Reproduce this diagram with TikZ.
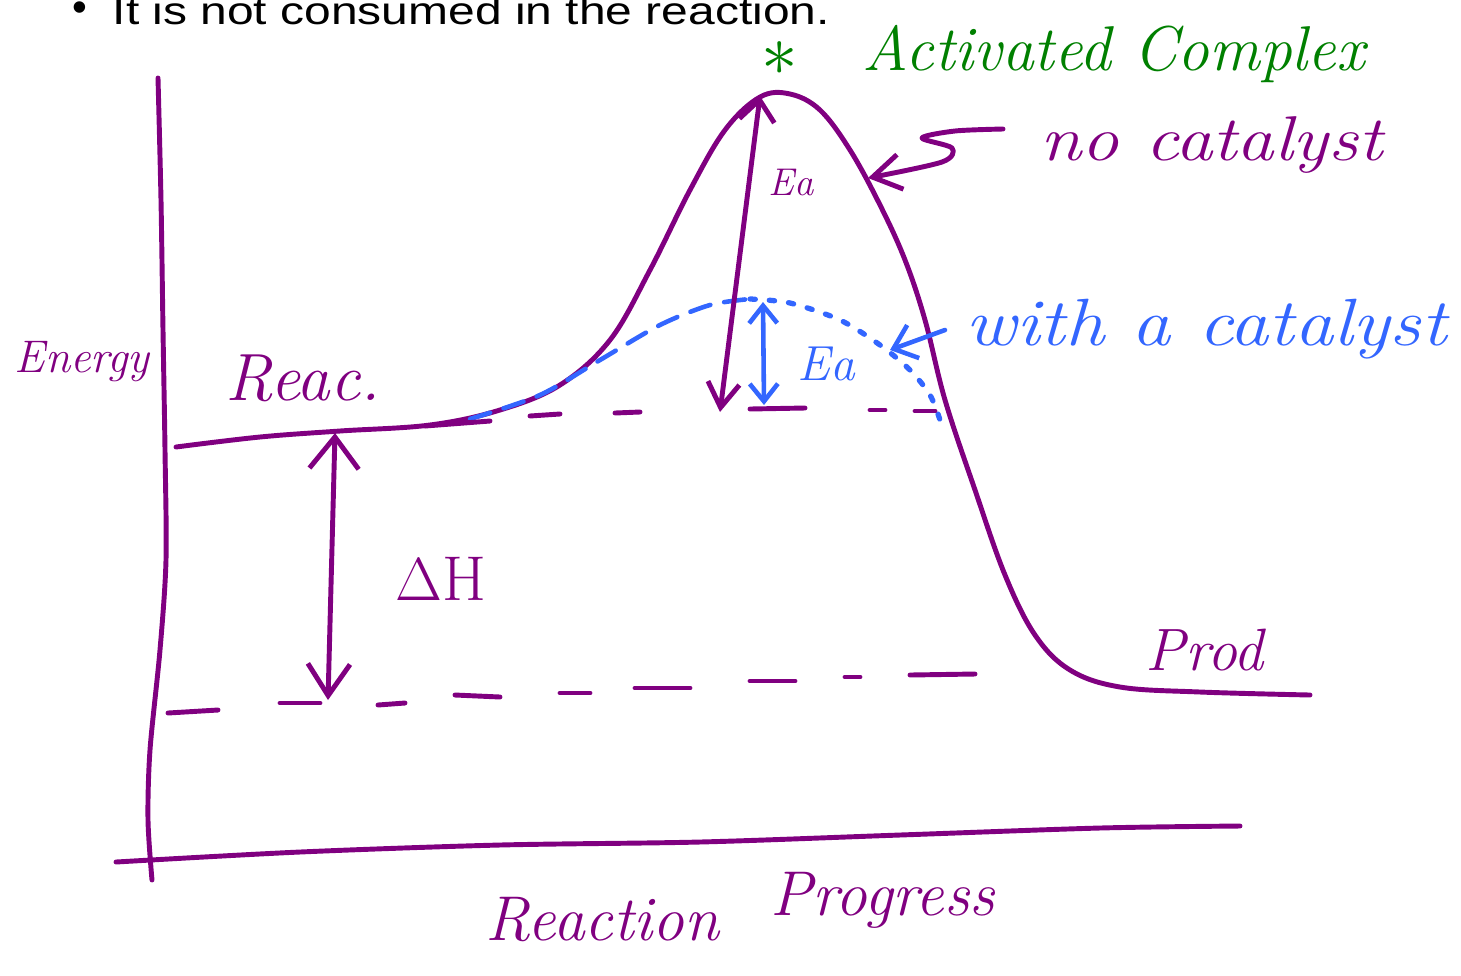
\documentclass[tikz,border=0pt]{standalone}
\usepackage{fontspec}
\usepackage{amssymb}
\usetikzlibrary{arrows.meta}
\newfontfamily\printfont{Liberation Sans}
\definecolor{hwpurple}{RGB}{128,0,128}
\definecolor{hwgreen}{RGB}{0,128,0}
\definecolor{hwblue}{RGB}{51,102,255}

\begin{document}
\begin{tikzpicture}[x=0.01cm,y=-0.01cm,
  pen/.style={draw=hwpurple,line width=1.4pt,line cap=round,line join=round},
  bluepen/.style={draw=hwblue,line width=1.3pt,line cap=round,line join=round},
  hand/.style={inner sep=0pt,anchor=base west,font=\fontsize{#1}{#1}\selectfont\itshape},
  bigbarb/.style={{Straight Barb[length=9pt,width=14pt]}-{Straight Barb[length=9pt,width=12pt]}},
  smallbarb/.style={{Straight Barb[length=6pt,width=10pt]}-{Straight Barb[length=7pt,width=9pt]}}]
\useasboundingbox (0,0) rectangle (1461,975);

% the heading line cut off at the top
\node[inner sep=0pt,anchor=base west,font=\printfont\fontsize{11}{12}\selectfont] (note) at (112,24) {\scalebox{1.24}[1]{It is not consumed in the reaction.}};
\node[inner sep=0pt,font=\printfont\fontsize{12}{12}\selectfont] (dot) at (80,12) {•};

% axes
\draw[pen] plot[smooth] coordinates {(158,78) (161,200) (163,330) (165,450) (166,560) (160,650) (150,750) (148,820) (152,880)};
\draw[pen] plot[smooth] coordinates {(116,862) (300,852) (500,845) (700,842) (900,835) (1100,828) (1240,826)};

% energy curve without catalyst
\draw[pen] plot[smooth,tension=0.6] coordinates {(176,447) (260,437) (340,431) (430,425) (500,410) (560,385) (610,340) (650,270) (690,190) (725,130) (760,97) (790,94) (820,110) (850,150) (880,205) (905,260) (925,320) (945,400) (975,490) (1005,575) (1035,635) (1070,670) (1120,687) (1200,692) (1310,695)};

% energy curve with catalyst
\draw[bluepen,dash pattern=on 6pt off 4pt] plot[smooth] coordinates {(470,419) (540,395) (600,360) (660,325) (710,305) (750,299)};
\draw[bluepen,line width=1.5pt,dash pattern=on 1.5pt off 4pt] plot[smooth] coordinates {(750,299) (790,303) (840,320) (880,345) (910,370) (930,395) (940,420)};

% reactant and product levels
\foreach \xa/\ya/\xb/\yb in {425/426/490/421, 530/416/560/414, 615/413/640/412, 750/409/805/408, 870/410/885/410, 915/411/935/411}
  \draw[pen] (\xa,\ya) -- (\xb,\yb);
\foreach \xa/\ya/\xb/\yb in {168/713/218/710, 280/703/320/703, 378/705/405/703, 455/695/500/697, 560/693/590/693, 635/688/690/688, 750/681/795/681, 845/677/860/677, 910/675/975/674}
  \draw[pen] (\xa,\ya) -- (\xb,\yb);

\coordinate (dhTop) at (335,433);
\coordinate (dhBot) at (328,700);
\coordinate (eaTop) at (760,96);
\coordinate (eaBot) at (720,412);
\coordinate (ebTop) at (763,302);
\coordinate (ebBot) at (764,405);
\coordinate (ncTail) at (1003,129);
\coordinate (ncTip) at (868,178);
\coordinate (wcTail) at (945,330);
\coordinate (wcTip) at (890,350);

\draw[pen,bigbarb] (dhTop) -- (dhBot);
\draw[pen,smallbarb] (eaTop) -- (eaBot);
\draw[bluepen,{Straight Barb[length=5pt,width=8pt]}-{Straight Barb[length=5pt,width=8pt]}] (ebTop) -- (ebBot);
\draw[pen,-{Straight Barb[length=8pt,width=10pt]}] plot[smooth] coordinates {(ncTail) (955,131) (922,138) (952,148) (942,162) (ncTip)};
\draw[bluepen,-{Straight Barb[length=6pt,width=10pt]}] (wcTail) -- (wcTip);

% labels
\node[hand=13,text=hwpurple] (energyLbl) at (14,372) {Energy};
\node[hand=19,text=hwpurple] (reacLbl) at (225,400) {Reac.};
\node[hand=17,text=hwpurple] (prodLbl) at (1145,670) {Prod};
\node[inner sep=0pt,anchor=base west,text=hwpurple,font=\fontsize{18}{18}\selectfont] (dhLbl) at (395,600) {$\Delta$H};
\node[hand=11,text=hwpurple] (eaLbl) at (768,195) {Ea};
\node[hand=14,text=hwblue] (ebLbl) at (797,380) {Ea};
\node[inner sep=0pt,text=hwgreen,font=\fontsize{22}{22}\selectfont] (starLbl) at (780,59) {$\ast$};
\node[hand=18,text=hwgreen] (actLbl) at (862,70) {Activated Complex};
\node[hand=18,text=hwpurple] (noCatLbl) at (1040,160) {\scalebox{1.18}[1]{no catalyst}};
\node[hand=19,text=hwblue] (withCatLbl) at (965,345) {\scalebox{1.17}[1]{with a catalyst}};
\node[hand=18,text=hwpurple] (reactionLbl) at (485,940) {Reaction};
\node[hand=18,text=hwpurple] (progressLbl) at (770,915) {Progress};
\end{tikzpicture}
\end{document}
